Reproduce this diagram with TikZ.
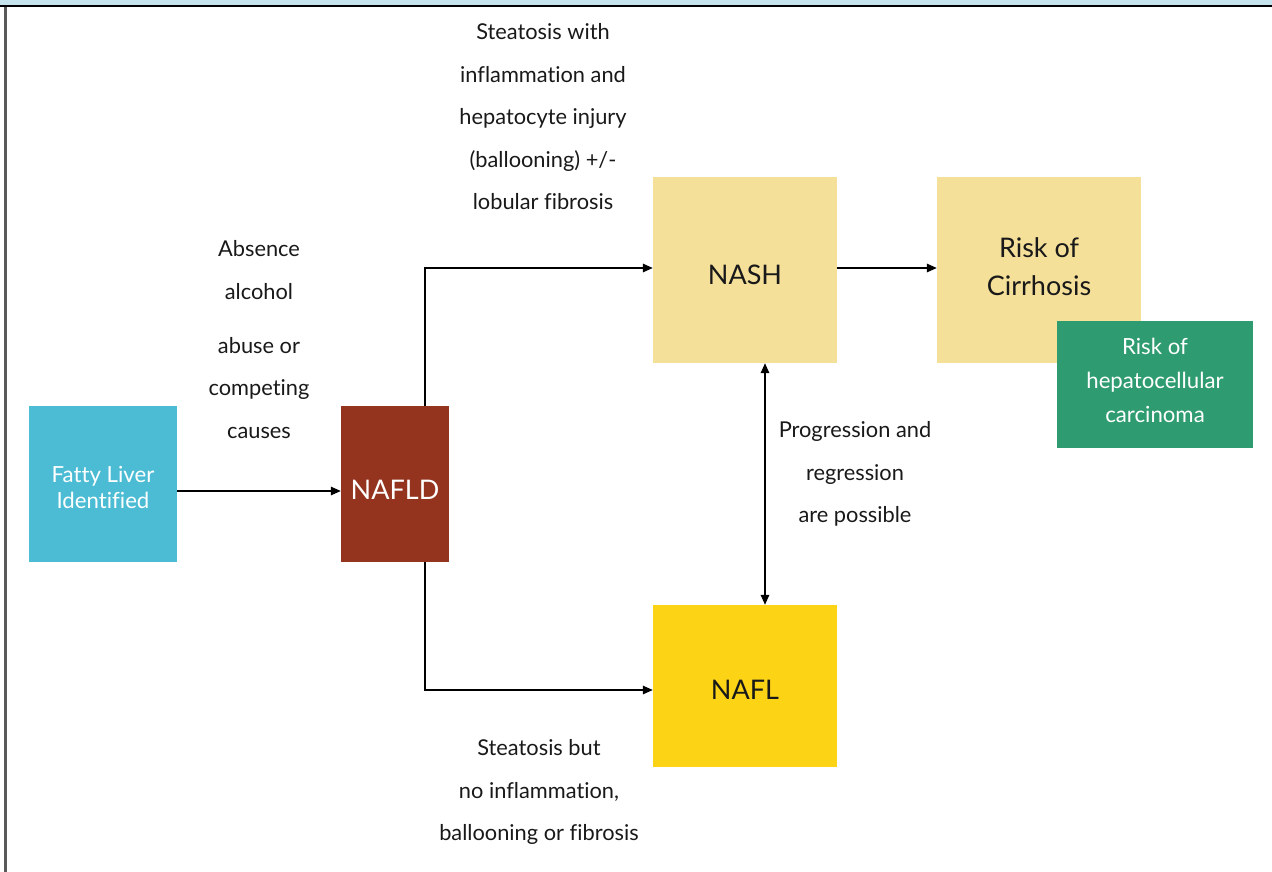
\documentclass[tikz,border=0pt]{standalone}
\usepackage{fontspec}
\setmainfont[Ligatures={NoCommon}]{Lato}
\usetikzlibrary{arrows.meta}
\definecolor{topbar}{HTML}{C5E3EC}
\definecolor{fattyc}{HTML}{4BBCD4}
\definecolor{nafldc}{HTML}{94341F}
\definecolor{nashc}{HTML}{F5E09A}
\definecolor{hccc}{HTML}{2E9C70}
\definecolor{naflc}{HTML}{FDD316}
\tikzset{
  box/.style={inner sep=0pt, align=center},
  lbl/.style={align=center, inner sep=0pt, font=\fontsize{21.8}{42.5}\selectfont, text=black!90},
  conn/.style={line width=1.5pt, -{Triangle[length=10pt,width=8.5pt]}},
  dconn/.style={line width=1.5pt, {Triangle[length=10pt,width=8.5pt]}-{Triangle[length=10pt,width=8.5pt]}},
}
\begin{document}
\begin{tikzpicture}[x=1pt,y=-1pt]
\useasboundingbox (0,0) rectangle (1272,872);
\fill[topbar] (0,0) rectangle (1272,6);
\draw[line width=2pt, black] (0,6.5) -- (1272,6.5);
\draw[line width=2.2pt, black!65] (5.5,7.5) -- (5.5,872);

\node[box, fill=fattyc, minimum width=148pt, minimum height=156pt] (fatty) at (103,484) {};
\node[align=center, inner sep=0pt, text=white, font=\fontsize{22.2}{26}\selectfont] at (103,487) {Fatty Liver\\Identified};
\node[box, fill=nafldc, minimum width=108pt, minimum height=156pt] (nafld) at (395,484) {};
\node[text=white, font=\fontsize{27}{30}\selectfont] at (395,490) {NAFLD};
\node[box, fill=nashc, minimum width=184pt, minimum height=186pt] (nash) at (745,270) {};
\node[font=\fontsize{27}{38}\selectfont, text=black!90] at (745,275) {NASH};
\node[box, fill=nashc, minimum width=204pt, minimum height=186pt] (cirr) at (1039,270) {};
\node[align=center, inner sep=0pt, text=black!90, font=\fontsize{27}{38}\selectfont] at (1039,267) {Risk of\\Cirrhosis};
\node[box, fill=hccc, minimum width=196pt, minimum height=127pt] (hcc) at (1155,384.5) {};
\node[align=center, inner sep=0pt, text=white, font=\fontsize{22.2}{34}\selectfont] at (1155,380.5) {Risk of\\hepatocellular\\carcinoma};
\node[box, fill=naflc, minimum width=184pt, minimum height=162pt] (nafl) at (745,686) {};
\node[text=black!90, font=\fontsize{27}{30}\selectfont] at (745,690) {NAFL};

\coordinate (up) at (425,268);
\coordinate (down) at (425,690);
\draw[conn] (fatty.east |- 0,491) -- (nafld.west |- 0,491);
\draw[conn] (nafld.north -| up) -- (up) -- (nash.west |- up);
\draw[conn] (nafld.south -| down) -- (down) -- (nafl.west |- down);
\draw[conn] (nash.east |- 0,268) -- (cirr.west |- 0,268);
\draw[dconn] (nash.south -| 765,0) -- (nafl.north -| 765,0);

\node[lbl] (l1) at (543,117) {Steatosis with\\inflammation and\\hepatocyte injury\\(ballooning) +/-\\lobular fibrosis};
\node[lbl] (l2) at (259,270) {Absence\\alcohol};
\node[lbl] (l3) at (259,388) {abuse or\\competing\\causes};
\node[lbl] (l4) at (855,474) {Progression and\\regression\\are possible};
\node[lbl] (l5) at (539,792) {Steatosis but\\no inflammation,\\ballooning or fibrosis};
\end{tikzpicture}
\end{document}
